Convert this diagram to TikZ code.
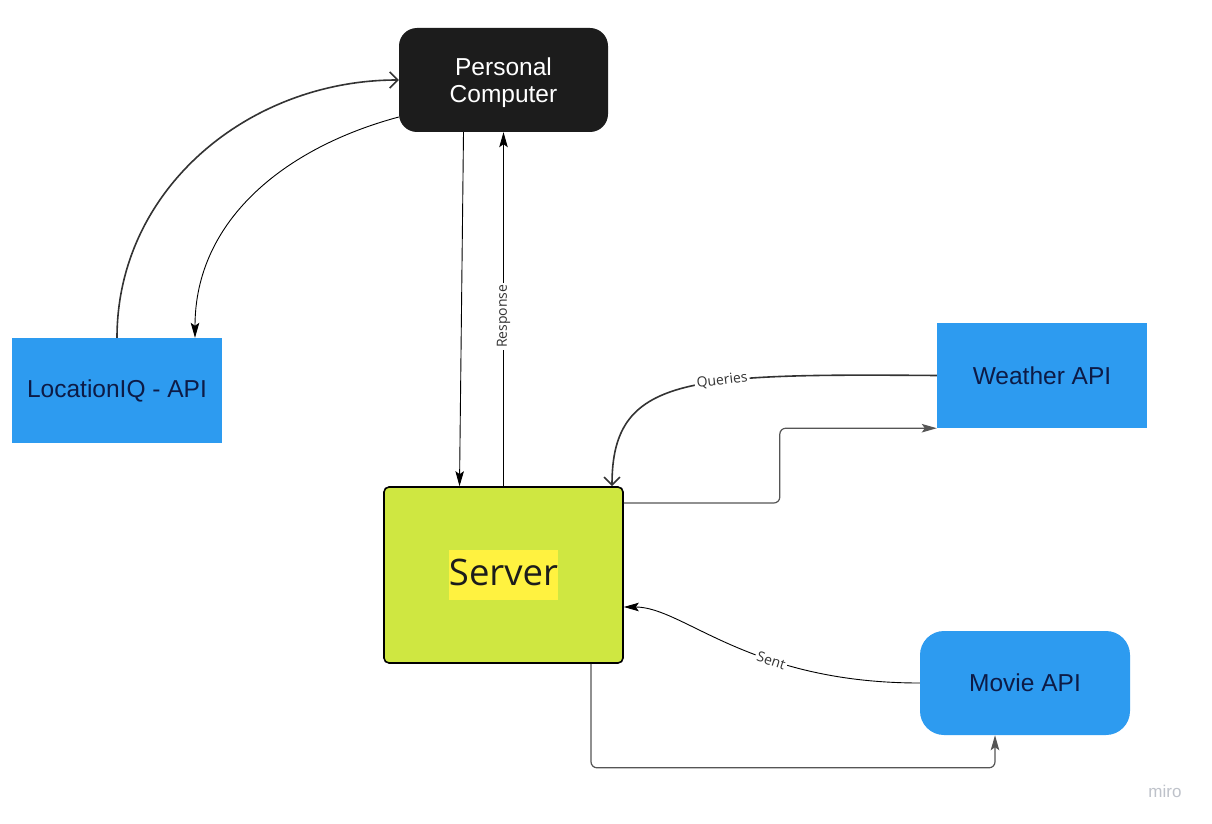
\documentclass[tikz,border=0pt]{standalone}
\usepackage{fontspec}
\setmainfont{Liberation Sans}
\newfontfamily\labelfont{Open Sans}
\usetikzlibrary{arrows.meta}

\definecolor{pcblack}{HTML}{1C1C1C}
\definecolor{apiblue}{HTML}{2D9BF0}
\definecolor{apitext}{HTML}{0D1B46}
\definecolor{srvgreen}{HTML}{CFE741}
\definecolor{srvyellow}{HTML}{FFF240}
\definecolor{linegray}{HTML}{333333}
\definecolor{elbowgray}{HTML}{555555}
\definecolor{labelgray}{HTML}{333333}
\definecolor{mirogray}{HTML}{BEC2CA}

\tikzset{
    box/.style={minimum width=210pt, minimum height=105pt, inner sep=0pt, align=center,
        font=\fontsize{24.5}{27.5}\selectfont},
    pcbox/.style={box, minimum width=209pt, minimum height=104pt, fill=pcblack, text=white,
        rounded corners=18pt, text depth=0pt},
    apibox/.style={box, fill=apiblue, text=apitext},
    srvbox/.style={minimum width=239pt, minimum height=176pt, fill=srvgreen, draw=black,
        line width=1.6pt, rounded corners=5pt},
    hlbox/.style={fill=srvyellow, inner sep=0pt, text height=35pt, text depth=15pt,
        text=pcblack, font=\labelfont\fontsize{36.5}{36.5}\selectfont},
    thinline/.style={line width=0.9pt, draw=black},
    thickline/.style={line width=1.6pt, draw=linegray},
    elbow/.style={line width=1.2pt, draw=elbowgray, rounded corners=6pt},
    solidhead/.style={-{Stealth[length=15pt, width=8.5pt, inset=3pt]}},
    openhead/.style={-{Straight Barb[length=8pt, width=16pt]}},
    edgelabel/.style={fill=white, inner sep=2pt, text=labelgray, font=\labelfont\fontsize{14}{14}\selectfont}
}

\begin{document}
\begin{tikzpicture}[x=1pt, y=-1pt]
    \fill[white] (0,0) rectangle (1212,824); % white page
    \useasboundingbox (0,0) rectangle (1212,824);

    % Boxes
    \node[pcbox] (pc) at (503.5,80) {Personal\\Computer};
    \node[apibox] (loc) at (117,390.5) {LocationIQ - API};
    \node[apibox] (wea) at (1042,375.5) {Weather API};
    \node[apibox, minimum height=104pt, rounded corners=24pt] (mov) at (1025,683) {Movie API};
    \node[srvbox] (srv) at (503.5,575) {};
    \node[hlbox] (srvtext) at (srv.center) {Server}; % highlighted title

    % LocationIQ <-> Personal Computer
    \draw[thickline, openhead] (loc.north) to[out=90, in=180] (pc.west);
    \draw[thinline, solidhead] ([yshift=-37pt]pc.west) to[out=195, in=90] ([xshift=78pt]loc.north);

    % Personal Computer <-> Server
    \draw[thinline, solidhead] ([xshift=-40pt]pc.south) -- ([xshift=-44pt]srv.north);
    \draw[thinline, solidhead] (srv.north) -- node[edgelabel, rotate=90, pos=0.48] {Response} (pc.south);

    % Weather API <-> Server
    \draw[thickline, openhead] (wea.west) .. controls +(-250,-2) and +(0,-110) ..
        node[edgelabel, sloped, pos=0.38] {Queries} ([xshift=108.5pt]srv.north);
    \draw[elbow, solidhead] ([yshift=72pt]srv.east) -- ++(156,0) |- (wea.south west);

    % Movie API <-> Server
    \draw[thinline, solidhead] (mov.west) .. controls +(-172,0) and +(60,0) ..
        node[edgelabel, sloped, pos=0.36] {Sent} ([yshift=-32pt]srv.east);
    \draw[elbow, solidhead] ([xshift=87.5pt]srv.south) -- ++(0,104) -| ([xshift=-30pt]mov.south);

    \node[text=mirogray, font=\fontsize{17}{17}\selectfont] (miro) at (1165,791) {miro}; % watermark
\end{tikzpicture}
\end{document}
